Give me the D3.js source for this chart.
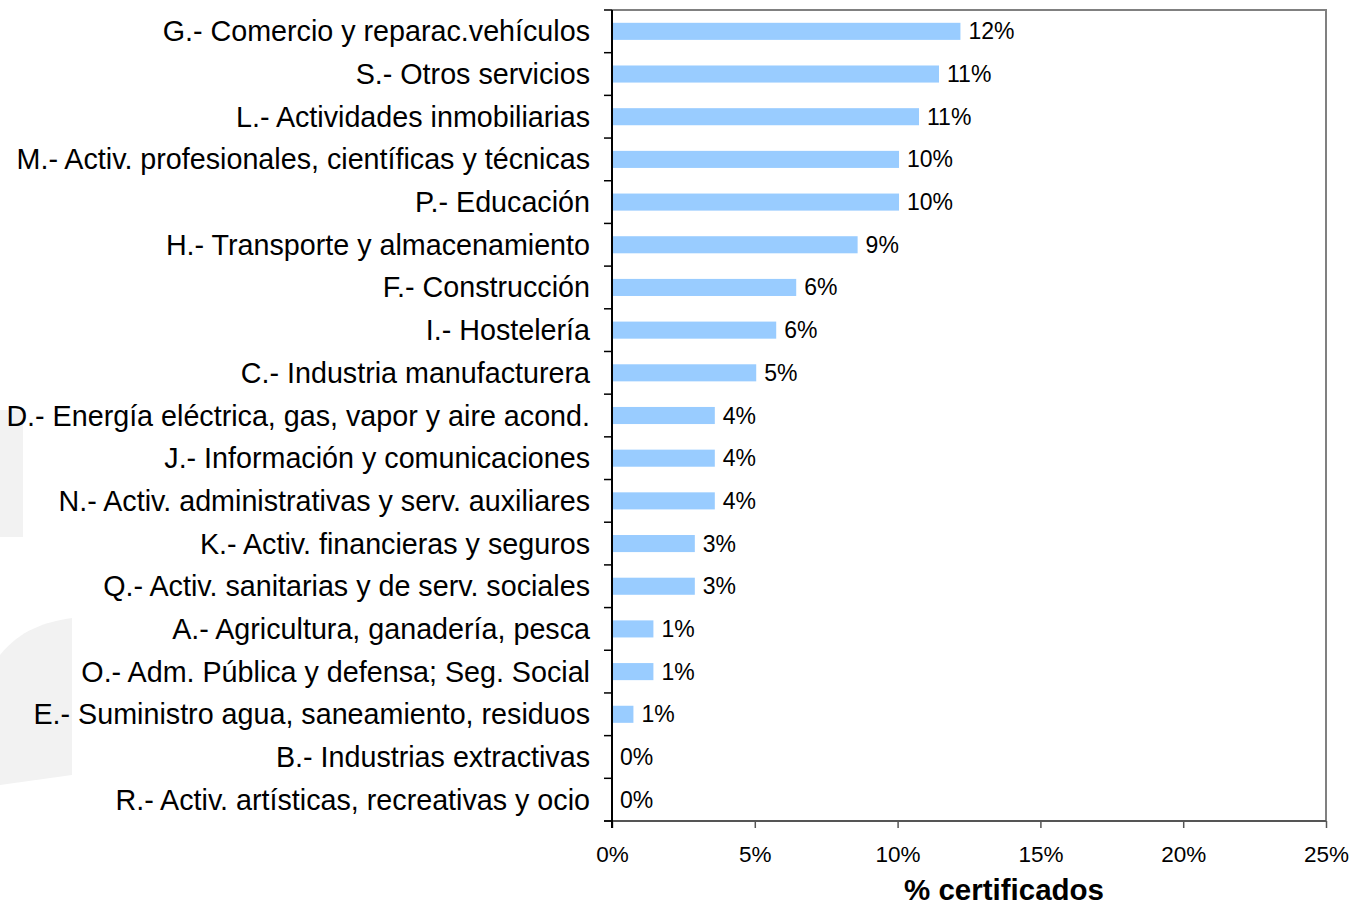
<!DOCTYPE html>
<html>
<head>
<meta charset="utf-8">
<script src="https://cdn.jsdelivr.net/npm/d3@7"></script>
<style>
  html, body { margin: 0; padding: 0; background: #ffffff; }
  svg { display: block; font-family: "Liberation Sans", Arial, sans-serif; }
</style>
</head>
<body>
<svg id="chart" width="1350" height="904"></svg>
<script>
// ---- Data ----
const categories = [
  "G.- Comercio y reparac.vehículos",
  "S.- Otros servicios",
  "L.- Actividades inmobiliarias",
  "M.- Activ. profesionales, científicas y técnicas",
  "P.- Educación",
  "H.- Transporte y almacenamiento",
  "F.- Construcción",
  "I.- Hostelería",
  "C.- Industria manufacturera",
  "D.- Energía eléctrica, gas, vapor y aire acond.",
  "J.- Información y comunicaciones",
  "N.- Activ. administrativas y serv. auxiliares",
  "K.- Activ. financieras y seguros",
  "Q.- Activ. sanitarias y de serv. sociales",
  "A.- Agricultura, ganadería, pesca",
  "O.- Adm. Pública y defensa; Seg. Social",
  "E.- Suministro agua, saneamiento, residuos",
  "B.- Industrias extractivas",
  "R.- Activ. artísticas, recreativas y ocio"
];
const values = [12.2, 11.45, 10.75, 10.05, 10.05, 8.6, 6.45, 5.75, 5.05, 3.6, 3.6, 3.6, 2.9, 2.9, 1.45, 1.45, 0.75, 0, 0];
const xTicks = [0, 5, 10, 15, 20, 25];
const xTitle = "% certificados";

// ---- Layout ----
const svg = d3.select("#chart");
const plot = { left: 612, right: 1326, top: 10, bottom: 821 };

// faint watermark shapes on the left edge
svg.append("path")
  .attr("d", "M0,410 L23,410 L23,537 L0,537 Z")
  .attr("fill", "#f2f2f2");
svg.append("path")
  .attr("d", "M0,655 C20,630 45,622 72,618 L72,775 L0,785 Z")
  .attr("fill", "#f2f2f2");

const x = d3.scaleLinear().domain([0, 25]).range([plot.left, plot.right]);
const y = d3.scaleBand().domain(categories).range([plot.top, plot.bottom])
  .paddingInner(0.6).paddingOuter(0.3);

// plot frame (top / right grey border)
svg.append("path")
  .attr("d", `M${plot.left},${plot.top} H${plot.right} V${plot.bottom}`)
  .attr("fill", "none").attr("stroke", "#808080").attr("stroke-width", 2);

// bars
svg.append("g").selectAll("rect").data(categories).join("rect")
  .attr("x", x(0))
  .attr("y", d => y(d))
  .attr("width", (d, i) => x(values[i]) - x(0))
  .attr("height", y.bandwidth())
  .attr("fill", "#99ccff");

// value labels
svg.append("g").selectAll("text").data(categories).join("text")
  .attr("x", (d, i) => x(values[i]) + 8)
  .attr("y", d => y(d) + y.bandwidth() / 2)
  .attr("dy", "0.35em")
  .attr("font-size", 23)
  .attr("fill", "#000")
  .text((d, i) => Math.round(values[i]) + "%");

// bottom axis
const xAxis = d3.axisBottom(x).tickValues(xTicks).tickFormat(d => d + "%")
  .tickSize(7).tickPadding(18).tickSizeOuter(0);
const gx = svg.append("g").attr("transform", `translate(0,${plot.bottom})`).call(xAxis);
gx.select(".domain").attr("stroke", "#555").attr("stroke-width", 2)
  .attr("d", `M${plot.left - 8},0 H${plot.right}`);
gx.selectAll(".tick line").attr("stroke", "#555").attr("stroke-width", 1.5);
gx.selectAll(".tick text").attr("font-size", 22.5).attr("fill", "#000")
  .attr("font-family", "'Liberation Sans', Arial, sans-serif");

// left axis (category boundaries as ticks)
const gy = svg.append("g");
gy.append("line")
  .attr("x1", plot.left).attr("x2", plot.left)
  .attr("y1", plot.top).attr("y2", plot.bottom + 7)
  .attr("stroke", "#000").attr("stroke-width", 2);
const boundaries = d3.range(categories.length + 1).map(i => y.range()[0] + i * y.step());
gy.selectAll("line.tick").data(boundaries).join("line")
  .attr("class", "tick")
  .attr("x1", plot.left - 8).attr("x2", plot.left)
  .attr("y1", d => d).attr("y2", d => d)
  .attr("stroke", "#000").attr("stroke-width", 1.5);

// category labels
gy.selectAll("text").data(categories).join("text")
  .attr("x", plot.left - 22)
  .attr("y", d => y(d) + y.bandwidth() / 2)
  .attr("dy", "0.35em")
  .attr("text-anchor", "end")
  .attr("font-size", 28.7)
  .attr("fill", "#000")
  .text(d => d);

// axis title
svg.append("text")
  .attr("x", 1004).attr("y", 900)
  .attr("text-anchor", "middle")
  .attr("font-size", 29.5).attr("font-weight", "bold")
  .attr("fill", "#000")
  .text(xTitle);
</script>
</body>
</html>
